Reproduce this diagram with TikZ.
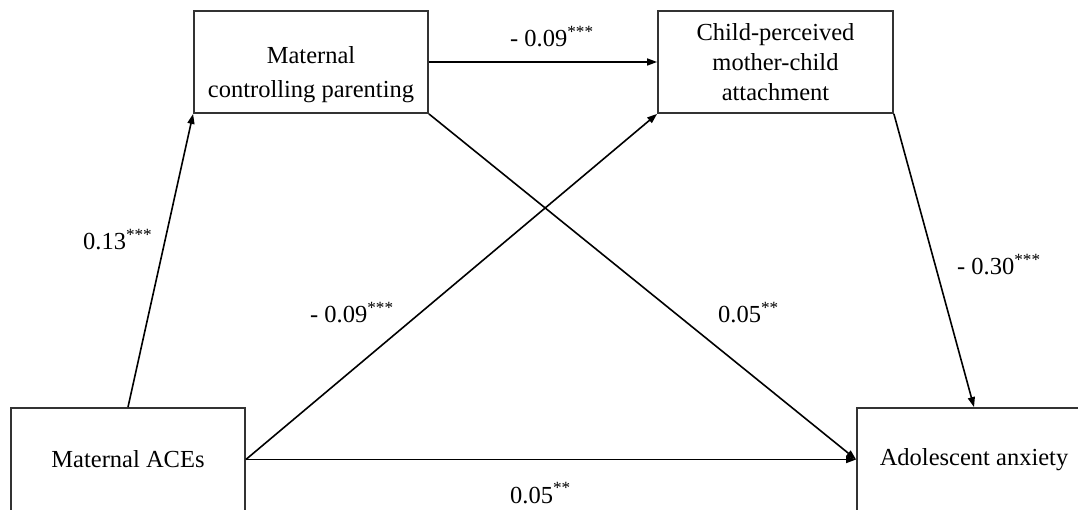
\documentclass[tikz,border=0pt]{standalone}
\usepackage{fontspec}
\setmainfont{Liberation Serif}
\usetikzlibrary{arrows.meta}
\begin{document}
\begin{tikzpicture}[x=1pt,y=-1pt,
  box/.style={draw=black!80, line width=1.8pt, rectangle, inner sep=0pt, align=center,
    font=\fontsize{24.5}{30}\selectfont},
  arr/.style={line width=1.6pt, -{Triangle[length=10pt,width=7pt]}},
  lab/.style={anchor=base west, inner sep=0pt, font=\fontsize{24.5}{30}\selectfont}]
\useasboundingbox (0,0) rectangle (1078,510);
\clip (0,0) rectangle (1078,510);
\fill[white] (0,0) rectangle (1078,510);
\node[box, minimum width=234pt, minimum height=102pt, text depth=0pt] (ctrl) at (311,62)
  {\raisebox{-3pt}{\parbox{230pt}{\centering Maternal\\[4pt]controlling parenting}}};
\node[box, minimum width=235pt, minimum height=102pt] (child) at (775.5,62)
  {Child-perceived\\mother-child\\attachment};
\node[box, minimum width=234pt, minimum height=103pt] (aces) at (128,459.5) {Maternal ACEs};
\node[box, minimum width=234pt, minimum height=103pt] (anx) at (974,459.5) {Adolescent anxiety};
\draw[arr] (ctrl.east) -- (child.west);
\draw[arr] (aces.north) -- (ctrl.south west);
\draw[arr] (aces.east) -- (child.south west);
\draw[arr] (aces.east) -- (anx.west);
\draw[arr] (ctrl.south east) -- (anx.west);
\draw[arr] (child.south east) -- (anx.north);
\node[lab] (l1) at (510,47) {- 0.09\textsuperscript{***}};
\node[lab] (l2) at (83,250) {0.13\textsuperscript{***}};
\node[lab] (l3) at (310,323) {- 0.09\textsuperscript{***}};
\node[lab] (l4) at (718,323) {0.05\textsuperscript{**}};
\node[lab] (l5) at (957,275) {- 0.30\textsuperscript{***}};
\node[lab] (l6) at (510,503) {0.05\textsuperscript{**}};
\end{tikzpicture}
\end{document}
